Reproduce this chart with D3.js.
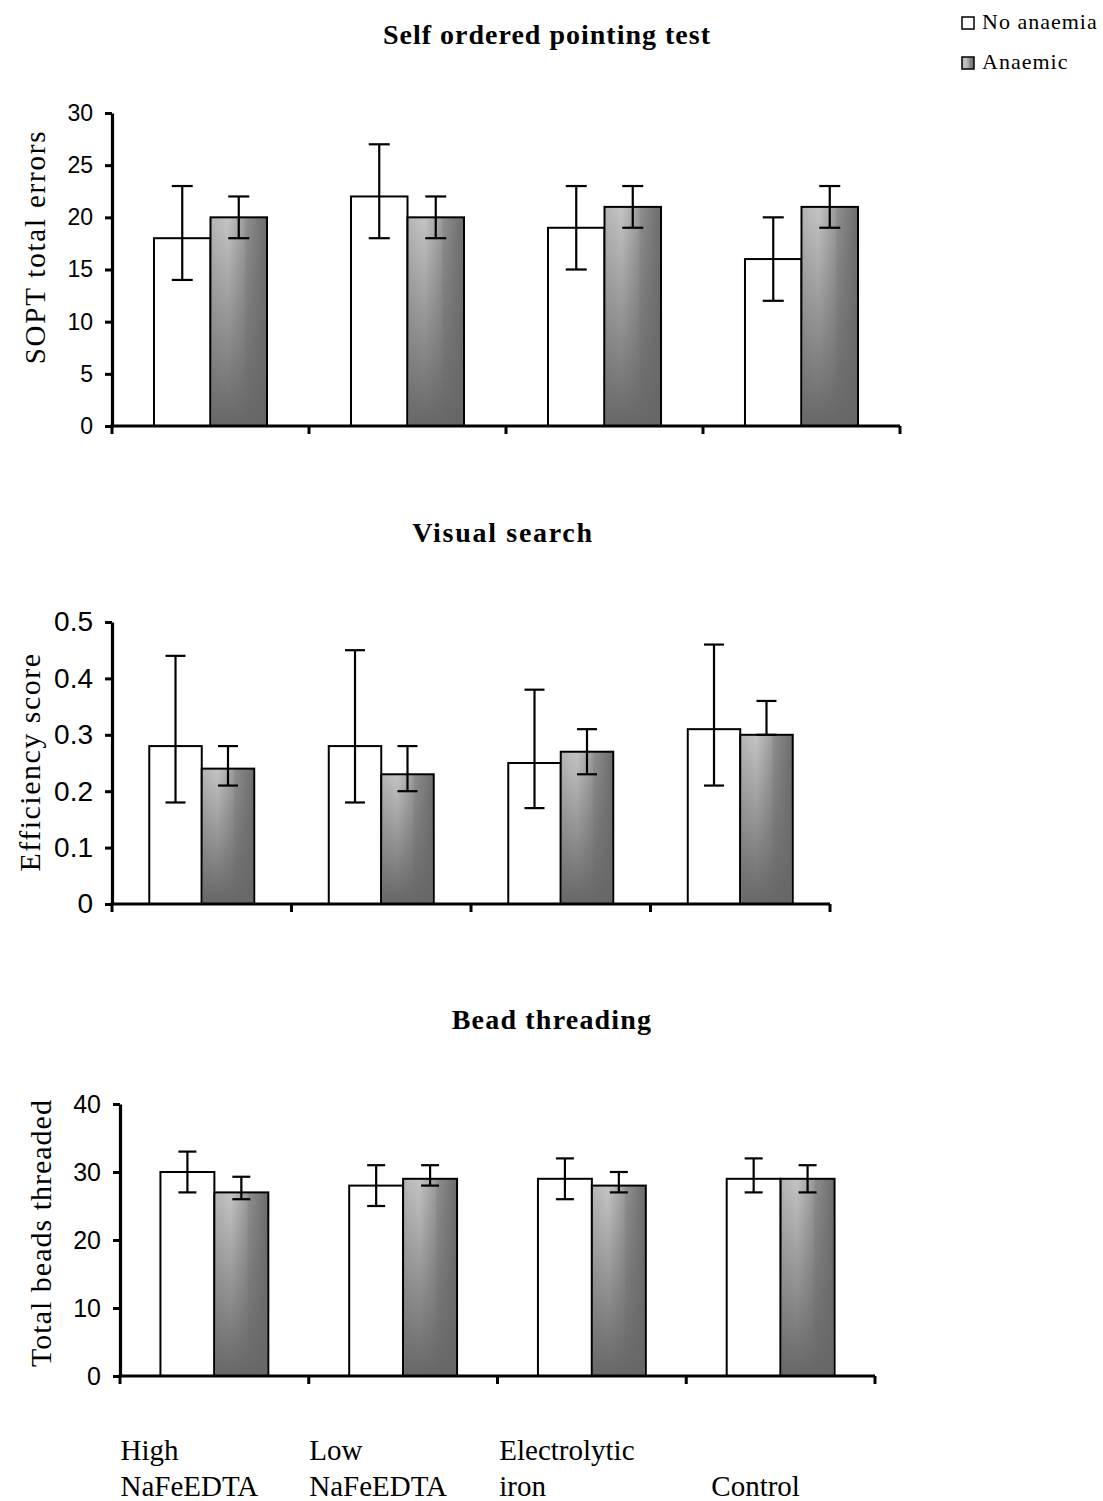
<!DOCTYPE html>
<html>
<head>
<meta charset="utf-8">
<script src="https://cdn.jsdelivr.net/npm/d3@7"></script>
<style>
  body { margin: 0; background: #fff; }
  svg { display: block; }
</style>
</head>
<body>
<svg id="chart" width="1103" height="1501"></svg>
<script>
// groups along the x axis (shared by all three panels)
const categories = ["High NaFeEDTA", "Low NaFeEDTA", "Electrolytic iron", "Control"];
const categoryLines = [["High", "NaFeEDTA"], ["Low", "NaFeEDTA"], ["Electrolytic", "iron"], ["Control"]];
const seriesNames = ["No anaemia", "Anaemic"];

// Self ordered pointing test (SOPT total errors)
const soptNoAnaemia      = [18, 22, 19, 16];
const soptNoAnaemiaLow   = [14, 18, 15, 12];
const soptNoAnaemiaHigh  = [23, 27, 23, 20];
const soptAnaemic        = [20, 20, 21, 21];
const soptAnaemicLow     = [18, 18, 19, 19];
const soptAnaemicHigh    = [22, 22, 23, 23];
const soptTicks = [0, 5, 10, 15, 20, 25, 30];

// Visual search (efficiency score)
const visNoAnaemia      = [0.28, 0.28, 0.25, 0.31];
const visNoAnaemiaLow   = [0.18, 0.18, 0.17, 0.21];
const visNoAnaemiaHigh  = [0.44, 0.45, 0.38, 0.46];
const visAnaemic        = [0.24, 0.23, 0.27, 0.30];
const visAnaemicLow     = [0.21, 0.20, 0.23, 0.30];
const visAnaemicHigh    = [0.28, 0.28, 0.31, 0.36];
const visTicks = [0, 0.1, 0.2, 0.3, 0.4, 0.5];

// Bead threading (total beads threaded)
const beadNoAnaemia      = [30, 28, 29, 29];
const beadNoAnaemiaLow   = [27, 25, 26, 27];
const beadNoAnaemiaHigh  = [33, 31, 32, 32];
const beadAnaemic        = [27, 29, 28, 29];
const beadAnaemicLow     = [26, 28, 27, 27];
const beadAnaemicHigh    = [29.3, 31, 30, 31];
const beadTicks = [0, 10, 20, 30, 40];

const serif = "'Liberation Serif', 'Times New Roman', serif";
const sans = "'Liberation Sans', Arial, sans-serif";

const svg = d3.select("#chart");
svg.append("rect").attr("width", 1103).attr("height", 1501).attr("fill", "#fff");

// grey bar shading: light left / dark right, darkening to the bottom
const defs = svg.append("defs");
const hGrad = defs.append("linearGradient").attr("id", "greyH")
  .attr("x1", 0).attr("y1", 0).attr("x2", 1).attr("y2", 0);
[[0, "#b4b4b4"], [0.3, "#c4c4c4"], [0.6, "#9c9c9c"], [0.63, "#8e8e8e"], [1, "#6c6c6c"]]
  .forEach(s => hGrad.append("stop").attr("offset", s[0]).attr("stop-color", s[1]));
const vGrad = defs.append("linearGradient").attr("id", "greyV")
  .attr("x1", 0).attr("y1", 0).attr("x2", 0).attr("y2", 1);
vGrad.append("stop").attr("offset", 0).attr("stop-color", "#676767").attr("stop-opacity", 0);
vGrad.append("stop").attr("offset", 1).attr("stop-color", "#676767").attr("stop-opacity", 1);

function makeRows(means, lows, highs) {
  return categories.map((c, i) => ({ cat: c, v: means[i], lo: lows[i], hi: highs[i] }));
}

const panels = [
  {
    title: "Self ordered pointing test", titleX: 547, titleY: 44, titleSpacing: 1,
    yLabel: "SOPT total errors", yLabelX: 35, yLabelY: 247, yLabelSize: 29, yLabelSpacing: 1.8,
    left: 112, right: 900, top: 113, bottom: 426, max: 30, ticks: soptTicks,
    fmt: d3.format("d"), tickFont: 23, outer: 0.743, cap: 21,
    series: [makeRows(soptNoAnaemia, soptNoAnaemiaLow, soptNoAnaemiaHigh),
             makeRows(soptAnaemic, soptAnaemicLow, soptAnaemicHigh)]
  },
  {
    title: "Visual search", titleX: 503, titleY: 542, titleSpacing: 1.7,
    yLabel: "Efficiency score", yLabelX: 29, yLabelY: 762, yLabelSize: 30, yLabelSpacing: 1.5,
    left: 112, right: 830, top: 622, bottom: 904, max: 0.5, ticks: visTicks,
    fmt: d => d === 0 ? "0" : d3.format(".1f")(d), tickFont: 28, outer: 0.71, cap: 20,
    series: [makeRows(visNoAnaemia, visNoAnaemiaLow, visNoAnaemiaHigh),
             makeRows(visAnaemic, visAnaemicLow, visAnaemicHigh)]
  },
  {
    title: "Bead threading", titleX: 552, titleY: 1029, titleSpacing: 1.2,
    yLabel: "Total beads threaded", yLabelX: 40, yLabelY: 1233, yLabelSize: 30, yLabelSpacing: 1,
    left: 120, right: 875, top: 1104, bottom: 1376, max: 40, ticks: beadTicks,
    fmt: d3.format("d"), tickFont: 25, outer: 0.75, cap: 18,
    series: [makeRows(beadNoAnaemia, beadNoAnaemiaLow, beadNoAnaemiaHigh),
             makeRows(beadAnaemic, beadAnaemicLow, beadAnaemicHigh)]
  }
];

function drawPanel(p) {
  const x0 = d3.scaleBand().domain(categories).range([p.left, p.right]).padding(0);
  const x1 = d3.scaleBand().domain(seriesNames).range([0, x0.bandwidth()])
    .paddingInner(0).paddingOuter(p.outer);
  const y = d3.scaleLinear().domain([0, p.max]).range([p.bottom, p.top]);
  const g = svg.append("g");

  // title
  g.append("text")
    .attr("x", p.titleX).attr("y", p.titleY)
    .attr("text-anchor", "middle")
    .attr("font-family", serif).attr("font-weight", "bold")
    .attr("font-size", 28).attr("letter-spacing", p.titleSpacing)
    .text(p.title);

  // y label
  g.append("text")
    .attr("transform", `translate(${p.yLabelX},${p.yLabelY}) rotate(-90)`)
    .attr("text-anchor", "middle").attr("dominant-baseline", "central")
    .attr("font-family", serif).attr("font-size", p.yLabelSize)
    .attr("letter-spacing", p.yLabelSpacing)
    .text(p.yLabel);

  // bars
  p.series.forEach((rows, si) => {
    const name = seriesNames[si];
    const bars = g.append("g").selectAll("g")
      .data(rows)
      .enter()
      .append("g");
    bars.append("rect")
      .attr("x", d => x0(d.cat) + x1(name))
      .attr("y", d => y(d.v))
      .attr("width", x1.bandwidth())
      .attr("height", d => y(0) - y(d.v))
      .attr("fill", si === 0 ? "#fff" : "url(#greyH)")
      .attr("stroke", "#000").attr("stroke-width", 2);
    if (si === 1) {
      bars.append("rect")
        .attr("x", d => x0(d.cat) + x1(name) + 1)
        .attr("y", d => y(d.v) + 1)
        .attr("width", x1.bandwidth() - 2)
        .attr("height", d => y(0) - y(d.v) - 2)
        .attr("fill", "url(#greyV)");
    }
  });

  // error bars
  p.series.forEach((rows, si) => {
    const name = seriesNames[si];
    const cx = d => x0(d.cat) + x1(name) + x1.bandwidth() / 2;
    const eb = g.append("g").attr("stroke", "#000").attr("stroke-width", 2.2)
      .selectAll("g").data(rows).enter().append("g");
    eb.append("line")
      .attr("x1", cx).attr("x2", cx)
      .attr("y1", d => y(d.hi)).attr("y2", d => y(d.lo));
    eb.append("line")
      .attr("x1", d => cx(d) - p.cap / 2).attr("x2", d => cx(d) + p.cap / 2)
      .attr("y1", d => y(d.hi)).attr("y2", d => y(d.hi));
    eb.append("line")
      .attr("x1", d => cx(d) - p.cap / 2).attr("x2", d => cx(d) + p.cap / 2)
      .attr("y1", d => y(d.lo)).attr("y2", d => y(d.lo));
  });

  // y axis
  const yAxis = d3.axisLeft(y).tickValues(p.ticks).tickFormat(p.fmt)
    .tickSize(7).tickSizeOuter(0).tickPadding(12);
  const ya = g.append("g").attr("transform", `translate(${p.left},0)`).call(yAxis);
  ya.select(".domain").attr("stroke-width", 3.2);
  ya.selectAll(".tick line").attr("stroke-width", 3);
  ya.selectAll(".tick text")
    .attr("font-family", sans).attr("font-size", p.tickFont).attr("fill", "#000");

  // x axis with ticks at the group boundaries
  const bounds = categories.map(c => x0(c)).concat([p.right]);
  g.append("line")
    .attr("x1", p.left - 1.6).attr("x2", p.right)
    .attr("y1", y(0)).attr("y2", y(0))
    .attr("stroke", "#000").attr("stroke-width", 3.2);
  g.append("g").selectAll("line").data(bounds).enter().append("line")
    .attr("x1", d => d).attr("x2", d => d)
    .attr("y1", y(0)).attr("y2", y(0) + 8)
    .attr("stroke", "#000").attr("stroke-width", 3);

  return x0;
}

let lastX;
panels.forEach(p => { lastX = drawPanel(p); });

// category labels below the last panel: left-aligned lines, block centred a bit left of the band
const labelG = svg.append("g");
categories.forEach((c, i) => {
  const lines = categoryLines[i];
  const block = labelG.append("g");
  const texts = lines.map((ln, li) => block.append("text")
    .attr("y", 1496 - (lines.length - 1 - li) * 36)
    .attr("font-family", serif).attr("font-size", 29)
    .text(ln));
  const w = d3.max(texts, t => t.node().getComputedTextLength());
  const cx = lastX(c) + lastX.bandwidth() / 2 - 25;
  texts.forEach(t => t.attr("x", cx - w / 2));
});

// legend
const legend = svg.append("g");
seriesNames.forEach((s, i) => {
  legend.append("rect")
    .attr("x", 962).attr("y", 17 + i * 40).attr("width", 12).attr("height", 12)
    .attr("fill", i === 0 ? "#fff" : "url(#greyH)")
    .attr("stroke", "#000").attr("stroke-width", 1.5);
  legend.append("text")
    .attr("x", 982).attr("y", 29 + i * 40)
    .attr("font-family", serif).attr("font-size", 22).attr("letter-spacing", 1)
    .text(s);
});
</script>
</body>
</html>
